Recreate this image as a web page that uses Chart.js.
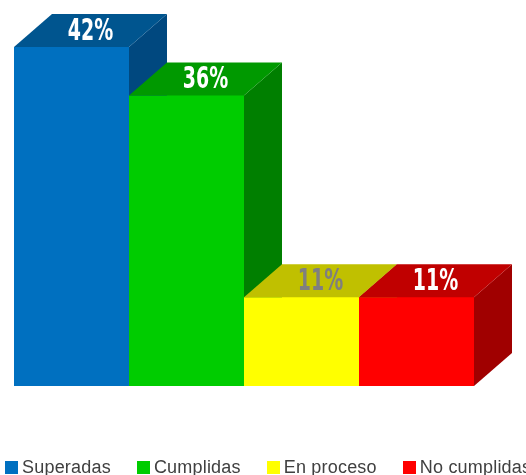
<html>
<head>
<meta charset="utf-8">
<title>Metas</title>
<script src="https://cdn.jsdelivr.net/npm/chart.js@4.4.1/dist/chart.umd.min.js"></script>
<style>
  body { margin: 0; background: #fff; }
  #wrap { position: relative; width: 526px; height: 475px; overflow: hidden; }
  #legend { position: absolute; left: 5px; top: 457px; width: 600px; white-space: nowrap;
            font: 18px "Liberation Sans", Arial, sans-serif; line-height: 20px; color: #404040;
            letter-spacing: 0.2px; }
  #legend span.item { display: inline-block; margin-right: 26px; }
  #legend span.box { display: inline-block; width: 13px; height: 13px; margin-right: 4px; vertical-align: -1px; }
</style>
</head>
<body>
<div id="wrap">
  <canvas id="metas" width="526" height="475"></canvas>
  <div id="legend"></div>
</div>
<script>
var categories = ["Superadas", "Cumplidas", "En proceso", "No cumplidas"];
var values = [42, 36, 11, 11];

var frontColors = ["#0070c0", "#00cc00", "#ffff00", "#ff0000"];
var topColors = ["#00558f", "#009900", "#c0c000", "#c00000"];
var sideColors = ["#00487f", "#007f00", "#a0a000", "#a00000"];
var labelColors = ["#ffffff", "#ffffff", "#7f7f7f", "#ffffff"];

var depthX = 38, depthY = 33;

var cube = {
  id: 'cube',
  afterDatasetsDraw: function(chart) {
    var ctx = chart.ctx;
    var bars = chart.getDatasetMeta(0).data;
    ctx.save();
    bars.forEach(function(bar, i) {
      var l = bar.x - bar.width / 2, r = bar.x + bar.width / 2;
      var t = bar.y, b = bar.base;
      // front
      ctx.fillStyle = frontColors[i];
      ctx.fillRect(l, t, r - l, b - t);
      // side
      ctx.fillStyle = sideColors[i];
      ctx.beginPath();
      ctx.moveTo(r, t); ctx.lineTo(r + depthX, t - depthY);
      ctx.lineTo(r + depthX, b - depthY); ctx.lineTo(r, b);
      ctx.closePath(); ctx.fill();
      // top
      ctx.fillStyle = topColors[i];
      ctx.beginPath();
      ctx.moveTo(l, t); ctx.lineTo(r, t);
      ctx.lineTo(r + depthX, t - depthY); ctx.lineTo(l + depthX, t - depthY);
      ctx.closePath(); ctx.fill();
    });
    // value labels on the top faces
    ctx.textAlign = 'center';
    ctx.textBaseline = 'middle';
    ctx.font = 'bold 31px "DejaVu Sans Condensed", "DejaVu Sans", sans-serif';
    bars.forEach(function(bar, i) {
      ctx.save();
      ctx.translate(bar.x + depthX / 2, bar.y - depthY / 2 + 1);
      ctx.scale(0.68, 1);
      ctx.fillStyle = labelColors[i];
      ctx.fillText(values[i] + '%', 0, 0);
      ctx.restore();
    });
    ctx.restore();
  }
};

new Chart(document.getElementById('metas').getContext('2d'), {
  type: 'bar',
  data: {
    labels: categories,
    datasets: [{
      data: values,
      backgroundColor: frontColors,
      borderWidth: 0,
      barPercentage: 1,
      categoryPercentage: 1
    }]
  },
  options: {
    responsive: false,
    animation: false,
    layout: { padding: { left: 14, right: 52, top: 47, bottom: 89 } },
    plugins: { legend: { display: false }, tooltip: { enabled: false } },
    scales: {
      x: { display: false },
      y: { display: false, min: 0, max: 42 }
    }
  },
  plugins: [cube]
});

var legend = document.getElementById('legend');
categories.forEach(function(name, i) {
  var item = document.createElement('span');
  item.className = 'item';
  var box = document.createElement('span');
  box.className = 'box';
  box.style.background = frontColors[i];
  item.appendChild(box);
  item.appendChild(document.createTextNode(name));
  legend.appendChild(item);
});
</script>
</body>
</html>
